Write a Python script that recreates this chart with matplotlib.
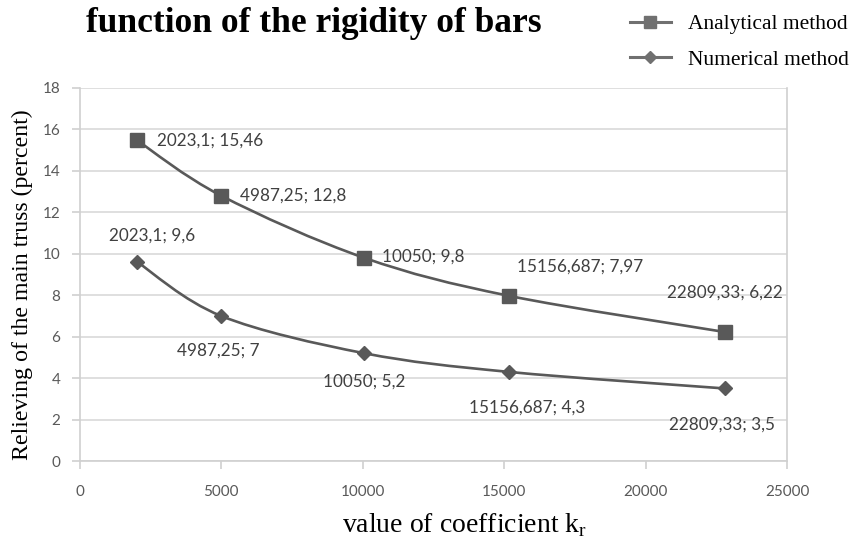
import matplotlib.pyplot as plt
from matplotlib.path import Path
from matplotlib.patches import PathPatch

# data
kr = [2023.1, 4987.25, 10050, 15156.687, 22809.33]
analytical = [15.46, 12.8, 9.8, 7.97, 6.22]
numerical = [9.6, 7.0, 5.2, 4.3, 3.5]
analytical_labels = ["2023,1; 15,46", "4987,25; 12,8", "10050; 9,8",
                     "15156,687; 7,97", "22809,33; 6,22"]
numerical_labels = ["2023,1; 9,6", "4987,25; 7", "10050; 5,2",
                    "15156,687; 4,3", "22809,33; 3,5"]

grey = "#595959"
serif = "Liberation Serif"
sans = "Lato"


def smooth_path(xs, ys):
    """Catmull-Rom style bezier through the points, like Excel's smoothed line"""
    verts = [(xs[0], ys[0])]
    codes = [Path.MOVETO]
    n = len(xs)
    for i in range(n - 1):
        x0, y0 = (xs[i - 1], ys[i - 1]) if i > 0 else (xs[i], ys[i])
        x1, y1 = xs[i], ys[i]
        x2, y2 = xs[i + 1], ys[i + 1]
        x3, y3 = (xs[i + 2], ys[i + 2]) if i + 2 < n else (x2, y2)
        c1 = (x1 + (x2 - x0) / 6, y1 + (y2 - y0) / 6)
        c2 = (x2 - (x3 - x1) / 6, y2 - (y3 - y1) / 6)
        verts += [c1, c2, (x2, y2)]
        codes += [Path.CURVE4] * 3
    return Path(verts, codes)


fig = plt.figure(figsize=(8.5, 5.45), dpi=100)
ax = fig.add_axes([0.094, 0.154, 0.832, 0.685])

for ys, mk, ms in [(analytical, "s", 10), (numerical, "D", 7)]:
    ax.add_patch(PathPatch(smooth_path(kr, ys), fill=False, edgecolor=grey,
                           lw=1.9, zorder=3))
    ax.plot(kr, ys, linestyle="none", marker=mk, ms=ms, color=grey, zorder=4)

# legend proxies
ax.plot([], [], color="#707070", lw=2.2, marker="s", ms=8, label="Analytical method")
ax.plot([], [], color="#707070", lw=2.2, marker="D", ms=6, label="Numerical method")

# data labels (offsets in pixels)
a_off = [(20, 0, "left"), (19, 0, "left"), (18, 1, "left"),
         (8, 29, "left"), (0, 39, "center")]
n_off = [(15, 26, "center"), (-3, -35, "center"), (0, -28, "center"),
         (18, -36, "center"), (-3, -36, "center")]
for x, y, t, (dx, dy, ha) in zip(kr, analytical, analytical_labels, a_off):
    ax.annotate(t, (x, y), xytext=(dx, dy), textcoords="offset pixels",
                ha=ha, va="center", fontsize=12.3, color="#404040",
                family=sans, zorder=5)
for x, y, t, (dx, dy, ha) in zip(kr, numerical, numerical_labels, n_off):
    ax.annotate(t, (x, y), xytext=(dx, dy), textcoords="offset pixels",
                ha=ha, va="center", fontsize=12.3, color="#404040",
                family=sans, zorder=5)

ax.set_xlim(0, 25000)
ax.set_ylim(0, 18)
ax.set_xticks(range(0, 25001, 5000))
ax.set_yticks(range(0, 19, 2))
ax.grid(axis="y", color="#d9d9d9", lw=1.2)
ax.set_axisbelow(True)
for s in ["left", "bottom", "right"]:
    ax.spines[s].set_color("#d0d0d0")
    ax.spines[s].set_linewidth(1.2)
ax.spines["top"].set_visible(False)
ax.tick_params(colors="#d0d0d0", labelcolor=grey, length=6, width=1.2,
               labelsize=11)
ax.tick_params(axis="x", pad=11)
ax.tick_params(axis="y", pad=8)
for lab in ax.get_xticklabels() + ax.get_yticklabels():
    lab.set_family(sans)

fig.text(22 / 850, 1 - 285 / 545, "Relieving of the main truss (percent)",
         family=serif, fontsize=17.2, rotation=90, ha="center", va="center")
fig.text(465 / 850, 1 - 525 / 545, "value of coefficient k$_\\mathregular{r}$",
         family=serif, fontsize=20, ha="center", va="center")

fig.text(314 / 850, 1 - 23 / 545, "function of the rigidity of bars",
         family=serif, fontsize=25.5, fontweight="bold", ha="center",
         va="center")

fig.legend(loc="upper right", bbox_to_anchor=(849 / 850, 1 - 14 / 545),
           frameon=False, prop={"family": serif, "size": 15.5},
           handlelength=1.9, handletextpad=0.8, labelspacing=0.72,
           borderpad=0, borderaxespad=0)

fig.savefig("out.png", dpi=100)
